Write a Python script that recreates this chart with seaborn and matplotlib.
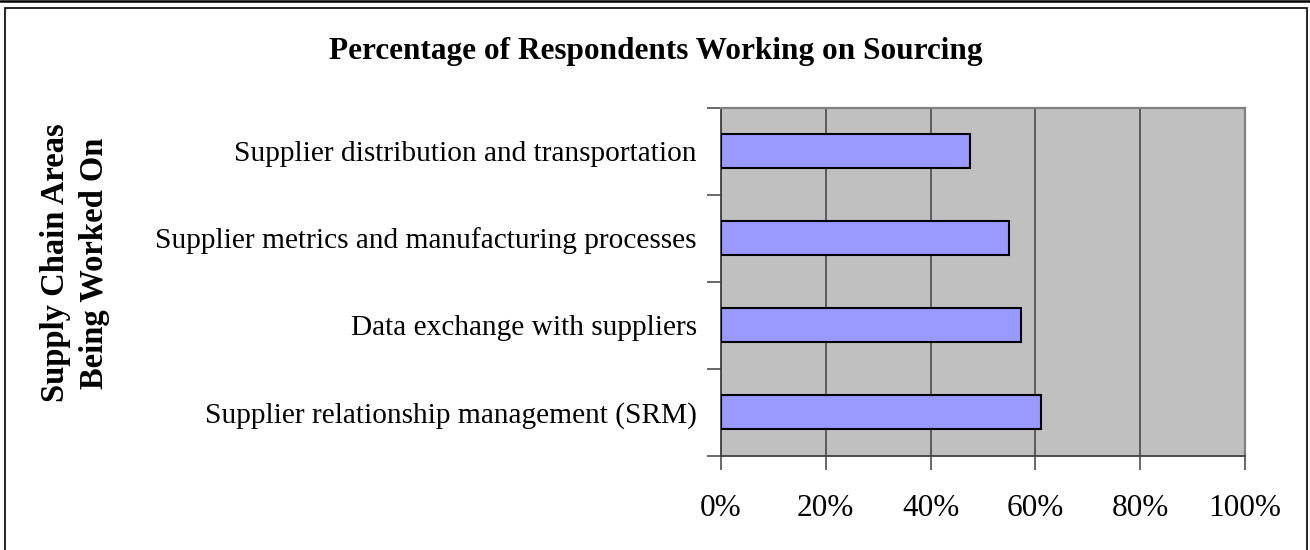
import matplotlib
matplotlib.use("Agg")
import matplotlib.pyplot as plt
import matplotlib.ticker as mticker
from matplotlib.patches import Rectangle
from matplotlib.lines import Line2D
import seaborn as sns
import pandas as pd

# Survey results: share of respondents working on each sourcing area
categories = [
    "Supplier distribution and transportation",
    "Supplier metrics and manufacturing processes",
    "Data exchange with suppliers",
    "Supplier relationship management (SRM)",
]
shares = [0.476, 0.550, 0.573, 0.610]
x_ticks = [0.0, 0.2, 0.4, 0.6, 0.8, 1.0]
x_tick_labels = ["0%", "20%", "40%", "60%", "80%", "100%"]

df = pd.DataFrame({"area": categories, "share": shares})

sns.set_theme(style="white")
plt.rcParams["font.family"] = ["Liberation Serif", "DejaVu Serif"]
plt.rcParams["text.color"] = "black"
plt.rcParams["xtick.labelcolor"] = "black"
plt.rcParams["ytick.labelcolor"] = "black"

W, H = 1310, 550
fig = plt.figure(figsize=(W / 100, H / 100), dpi=100)
fig.patch.set_facecolor("white")

ax = fig.add_axes([721 / W, 1 - 455.5 / H, (1245 - 721) / W, (455.5 - 107.5) / H])
ax.set_facecolor("#C0C0C0")

sns.barplot(
    data=df, x="share", y="area", orient="h", order=categories,
    color="#9999FF", saturation=1, width=0.4,
    edgecolor="black", linewidth=1.5, ax=ax, zorder=3,
)

ax.set_xlim(0, 1)
ax.set_ylim(3.5, -0.5)
ax.set_xticks(x_ticks)
ax.set_xticklabels(x_tick_labels, fontsize=22.5)
ax.xaxis.grid(True, color="#404040", linewidth=1.1, zorder=1)
ax.set_axisbelow(True)

# category labels without ticks, separator ticks between categories
ax.tick_params(axis="y", which="major", length=0, pad=17.5, labelsize=21.2)
ax.yaxis.set_minor_locator(mticker.FixedLocator([-0.5, 0.5, 1.5, 2.5, 3.5]))
ax.tick_params(axis="y", which="minor", length=10, width=1.1, color="#404040",
               direction="out", left=True)
ax.tick_params(axis="x", which="major", length=10, width=1.1, color="#404040",
               direction="out", bottom=True, pad=18)

ax.set_xlabel("")
ax.set_ylabel("")

for side in ["left", "bottom"]:
    ax.spines[side].set_color("#404040")
    ax.spines[side].set_linewidth(1.3)
for side in ["top", "right"]:
    ax.spines[side].set_color("#808080")
    ax.spines[side].set_linewidth(1.6)
    ax.spines[side].set_visible(True)

fig.text(656 / W, 1 - 52 / H, "Percentage of Respondents Working on Sourcing",
         ha="center", va="center", fontsize=22.5, fontweight="bold")
fig.text(75 / W, 1 - 263 / H, "Supply Chain Areas\nBeing Worked On",
         ha="center", va="center", rotation=90, fontsize=23.5, fontweight="bold",
         linespacing=1.3)

# outer chart frame and the edge of the frame above it
fig.add_artist(Rectangle((5 / W, -0.05), (1307 - 5) / W, 1.05 - 7.5 / H,
                         transform=fig.transFigure, fill=False,
                         edgecolor="black", linewidth=1.2))
fig.add_artist(Line2D([0, 1], [1 - 1 / H, 1 - 1 / H], transform=fig.transFigure,
                      color="black", linewidth=1.8))

fig.savefig("out.png", dpi=100)
